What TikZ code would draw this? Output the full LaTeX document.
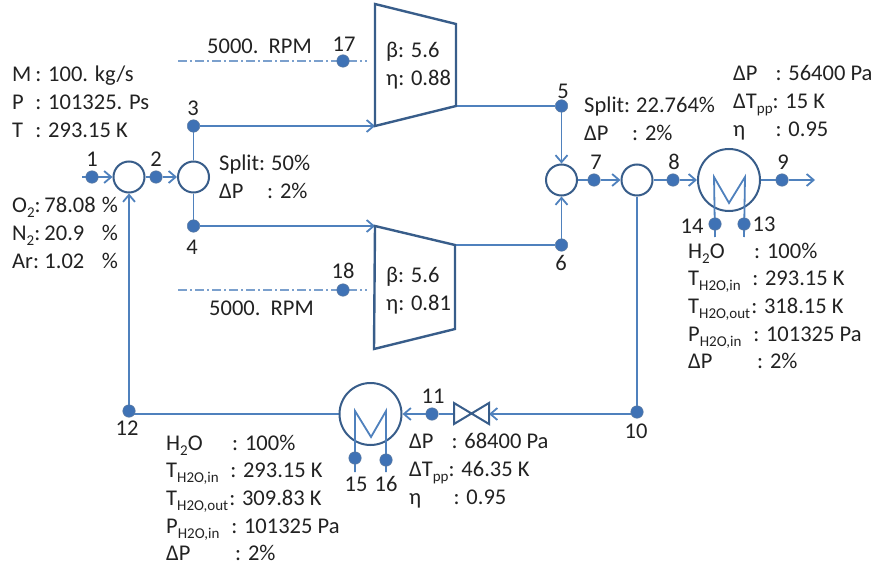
\documentclass[tikz,border=0pt]{standalone}
\usepackage{fontspec}
\setmainfont{Carlito}
\usetikzlibrary{arrows.meta, backgrounds}
\definecolor{pipeblue}{HTML}{4F81BD}
\definecolor{edgeblue}{HTML}{385D8A}
\definecolor{dotblue}{HTML}{3F72B5}
\definecolor{inktext}{HTML}{222222}
\newcommand{\lowtext}[1]{\raisebox{-5pt}{\fontsize{15}{15}\selectfont #1}}
\tikzset{
    flow/.style={draw=pipeblue, line width=1.8pt, -{Straight Barb[length=7pt,width=12pt]}},
    pipe/.style={draw=pipeblue, line width=1.8pt},
    shaft/.style={draw=pipeblue!75, line width=1.2pt, dash pattern=on 9pt off 3pt on 2pt off 3pt},
    casing/.style={draw=edgeblue, line width=2.4pt, line join=miter},
    joint/.style={circle, draw=edgeblue, line width=2pt, fill=white, minimum size=31pt, inner sep=0pt},
    exch/.style={joint, minimum size=62pt},
    pt/.style={circle, draw=edgeblue!80, fill=dotblue, line width=.5pt, minimum size=12.5pt, inner sep=0pt},
    tag/.style={text=inktext, font=\fontsize{22.5}{24}\selectfont, inner sep=0pt},
    data/.style={text=inktext, anchor=west, inner sep=0pt, font=\fontsize{22.5}{27.6}\selectfont},
}
\begin{document}
\begin{tikzpicture}[x=1pt, y=-1pt]
    \useasboundingbox (0,0) rectangle (874,572);

    % mixers, splitters, exchangers
    \node[joint] (mixA) at (129,177) {};
    \node[joint] (splitA) at (193.5,177) {};
    \node[joint] (mixB) at (561.5,180) {};
    \node[joint] (splitB) at (637,180) {};
    \node[exch] (hxA) at (729,180) {};
    \node[exch] (hxB) at (370.5,414) {};

    % free ends
    \coordinate (inlet) at (82,177);
    \coordinate (outlet) at (815,180);
    \coordinate (compAin) at (375,126);
    \coordinate (compAout) at (456,106);
    \coordinate (compBin) at (375,226);
    \coordinate (compBout) at (455,245);
    \coordinate (valveL) at (454,414);
    \coordinate (valveR) at (489,414);
    \coordinate (shaftA) at (178,61);
    \coordinate (shaftAend) at (367,61);
    \coordinate (shaftB) at (178,290);
    \coordinate (shaftBend) at (367,290);
    \coordinate (stub13) at (744,237);
    \coordinate (stub14) at (715,237);
    \coordinate (stub15) at (355,472);
    \coordinate (stub16) at (386,472);

    % coils
    \draw[pipe] (stub14) -- (714,177) -- (729,203) -- (745,177) -- (stub13);
    \draw[pipe] (stub15) -- (355,411) -- (371,437) -- (386,411) -- (stub16);

    % state points
    \node[pt] (p1) at (92,177) {};
    \node[pt] (p2) at (156,177) {};
    \node[pt] (p3) at (193.5,126) {};
    \node[pt] (p4) at (193.5,226) {};
    \node[pt] (p5) at (561.5,106) {};
    \node[pt] (p6) at (561.5,245) {};
    \node[pt] (p7) at (594,180) {};
    \node[pt] (p8) at (673,180) {};
    \node[pt] (p9) at (782,180) {};
    \node[pt] (p10) at (637,412) {};
    \node[pt] (p11) at (432,414) {};
    \node[pt] (p12) at (129,411) {};
    \node[pt] (p13) at (744,224) {};
    \node[pt] (p14) at (715,224) {};
    \node[pt] (p15) at (355,458) {};
    \node[pt] (p16) at (386,460) {};
    \node[pt] (p17) at (343,61) {};
    \node[pt] (p18) at (343,290) {};

    \node[tag] (n1) at (92,159) {1};
    \node[tag] (n2) at (156,159) {2};
    \node[tag] (n3) at (193,108) {3};
    \node[tag] (n4) at (192,247) {4};
    \node[tag] (n5) at (563,91) {5};
    \node[tag] (n6) at (561,263) {6};
    \node[tag] (n7) at (596,162) {7};
    \node[tag] (n8) at (674,162) {8};
    \node[tag] (n9) at (783,162) {9};
    \node[tag] (n10) at (636,431) {10};
    \node[tag] (n11) at (433,396) {11};
    \node[tag] (n12) at (127,428) {12};
    \node[tag] (n13) at (764,224) {13};
    \node[tag] (n14) at (692,226) {14};
    \node[tag] (n15) at (356,484) {15};
    \node[tag] (n16) at (386,484) {16};
    \node[tag] (n17) at (344,44) {17};
    \node[tag] (n18) at (343,271) {18};

    \begin{scope}[on background layer]
        \draw[flow] (inlet) -- (mixA);
        \draw[pipe] (mixA) -- (p2);
        \draw[flow] (p2) -- (splitA);
        \draw[pipe] (splitA) -- (p3);
        \draw[pipe] (splitA) -- (p4);
        \draw[flow] (p3) -- (compAin);
        \draw[flow] (p4) -- (compBin);
        \draw[pipe] (compAout) -- (p5);
        \draw[pipe] (compBout) -- (p6);
        \draw[flow] (p5) -- (mixB);
        \draw[flow] (p6) -- (mixB);
        \draw[pipe] (mixB) -- (p7);
        \draw[flow] (p7) -- (splitB);
        \draw[pipe] (splitB) -- (p8);
        \draw[flow] (p8) -- (hxA);
        \draw[pipe] (hxA) -- (p9);
        \draw[flow] (p9) -- (outlet);
        \draw[pipe] (splitB) -- (p10);
        \draw[flow] (p10 |- valveR) -- (valveR);
        \draw[pipe] (valveL) -- (p11);
        \draw[flow] (p11) -- (hxB);
        \draw[pipe] (hxB) -- (hxB -| p12);
        \draw[flow] (p12) -- (mixA);
        \draw[shaft] (shaftA) -- (shaftAend);
        \draw[shaft] (shaftB) -- (shaftBend);
    \end{scope}

    % compressors and valve
    \draw[casing] (375,4) -- (456,24) -- (compAout) -- (compAin) -- cycle;
    \draw[casing] (compBin) -- (compBout) -- (455,329) -- (374,349) -- cycle;
    \draw[casing, line width=2pt] (valveL |- 0,403) -- (valveR |- 0,424) -- (valveR |- 0,403) -- (valveL |- 0,424) -- cycle;

    \node[data] (rpmA) at (207,46) {5000.\ \ RPM};
    \node[data] (rpmB) at (209,308) {5000.\ \ RPM};
    \node[data] (compAdata) at (386,66) {\begin{tabular}{@{}l@{}}β: 5.6\\ η: 0.88\end{tabular}};
    \node[data] (compBdata) at (386,291) {\begin{tabular}{@{}l@{}}β: 5.6\\ η: 0.81\end{tabular}};

    \node[data] (inletstate) at (12,104) {\begin{tabular}{@{}l@{\hspace{4pt}}l@{}}
        M & : 100. kg/s\\
        P & : 101325. Ps\\
        T & : 293.15 K
    \end{tabular}};
    \node[data] (inletcomp) at (12,235) {\begin{tabular}{@{}l@{\,}l@{\hspace{6pt}}l@{}}
        O\lowtext{2}: & 78.08 & \%\\
        N\lowtext{2}: & 20.9 & \%\\
        Ar: & 1.02 & \%
    \end{tabular}};
    \node[data] (splitAdata) at (219,179) {\begin{tabular}{@{}l@{\hspace{6pt}}l@{}}
        Split: & 50\%\\
        ΔP & \hspace{-4pt}: 2\%
    \end{tabular}};
    \node[data] (splitBdata) at (584,121) {\begin{tabular}{@{}l@{\hspace{6pt}}l@{}}
        Split: & 22.764\%\\
        ΔP & \hspace{-4pt}: 2\%
    \end{tabular}};
    \node[data] (hxAgas) at (733,103) {\begin{tabular}{@{}l@{}l@{}}
        ΔP & \hspace{3pt}: 56400 Pa\\
        ΔT\lowtext{pp} & : 15 K\\
        η & \hspace{3pt}: 0.95
    \end{tabular}};
    \node[data] (hxBgas) at (409,471) {\begin{tabular}{@{}l@{}l@{}}
        ΔP & \hspace{3pt}: 68400 Pa\\
        ΔT\lowtext{pp} & : 46.35 K\\
        η & \hspace{5pt}: 0.95
    \end{tabular}};
    \node[data] (hxAwater) at (688,308) {\begin{tabular}{@{}l@{\hspace{1pt}}l@{}}
        H\lowtext{2}O & \hspace{3pt}: 100\%\\
        T\lowtext{H2O,in} & \hspace{1pt}: 293.15 K\\
        T\lowtext{H2O,out} & : 318.15 K\\
        P\lowtext{H2O,in} & \hspace{2pt}: 101325 Pa\\
        ΔP & \hspace{6pt}: 2\%
    \end{tabular}};
    \node[data] (hxBwater) at (166,500) {\begin{tabular}{@{}l@{\hspace{1pt}}l@{}}
        H\lowtext{2}O & \hspace{3pt}: 100\%\\
        T\lowtext{H2O,in} & \hspace{1pt}: 293.15 K\\
        T\lowtext{H2O,out} & : 309.83 K\\
        P\lowtext{H2O,in} & \hspace{2pt}: 101325 Pa\\
        ΔP & \hspace{6pt}: 2\%
    \end{tabular}};
\end{tikzpicture}
\end{document}
